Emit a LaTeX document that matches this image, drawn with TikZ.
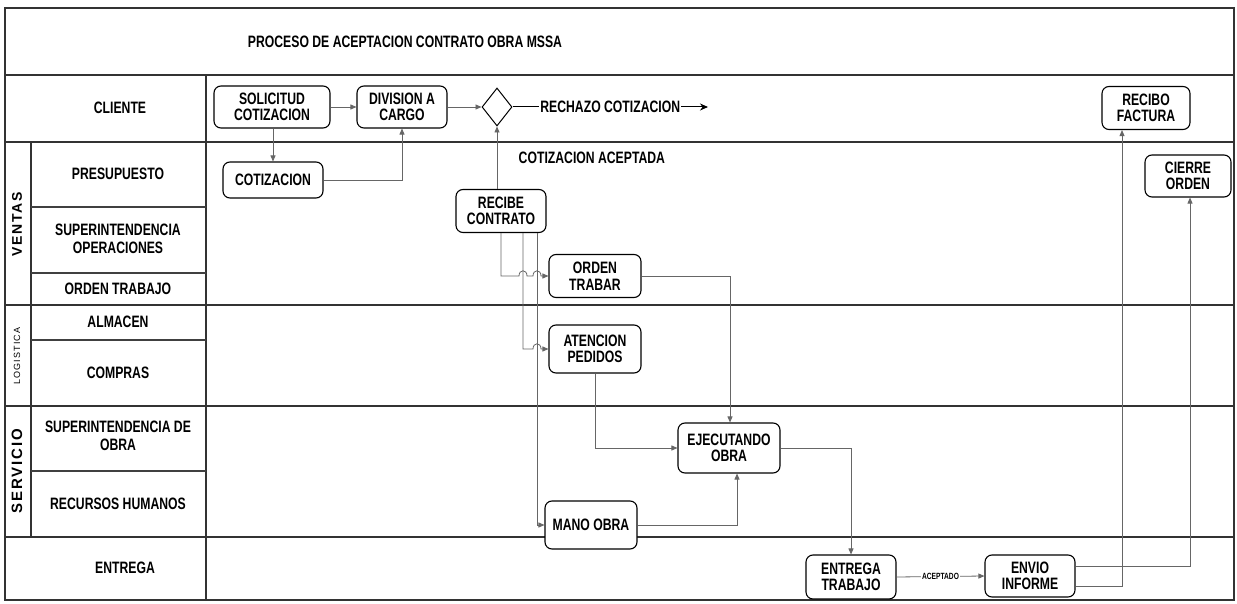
\documentclass[tikz,border=0pt]{standalone}
\usepackage{fontspec}
\setmainfont{Liberation Sans}[FakeStretch=0.74]
\newfontfamily\gfont{Liberation Sans}[LetterSpace=12]
\usetikzlibrary{arrows.meta,shapes.geometric,calc}
\begin{document}
\begin{tikzpicture}[x=1pt,y=-1pt,
  lane/.style={line width=1.4pt, draw=black!80},
  sub/.style={line width=1.1pt, draw=black!75},
  proc/.style={draw=black, line width=1.1pt, rounded corners=7pt, align=center, inner sep=0pt, font=\bfseries\fontsize{16.5}{16.5}\selectfont, fill=white},
  lbl/.style={align=center, font=\bfseries\fontsize{16.5}{18}\selectfont},
  grp/.style={rotate=90, font=\gfont\bfseries\fontsize{14}{15}\selectfont},
  conn/.style={draw=black!60, line width=0.8pt, -{Triangle[length=6pt,width=5pt]}},
]
\useasboundingbox (0,0) rectangle (1237,604);
\fill[white] (0,0) rectangle (1237,604);
% frame and lanes
\draw[lane] (5,8) rectangle (1234,600);
\draw[lane] (5,75) -- (1234,75);
\draw[lane] (5,142) -- (1234,142);
\draw[lane] (5,305) -- (1234,305);
\draw[lane] (5,406) -- (1234,406);
\draw[lane] (5,537) -- (1234,537);
\draw[lane] (206,75) -- (206,600);
\draw[lane] (31,142) -- (31,537);
\draw[sub] (31,207) -- (206,207);
\draw[sub] (31,273) -- (206,273);
\draw[sub] (31,340) -- (206,340);
\draw[sub] (31,471) -- (206,471);
% labels
\node[lbl] (title) at (405,42) {PROCESO DE ACEPTACION CONTRATO OBRA MSSA};
\node[lbl] (lcli) at (120,108) {CLIENTE};
\node[lbl] (lpre) at (118,174) {PRESUPUESTO};
\node[lbl] (lsop) at (118,239) {SUPERINTENDENCIA\\OPERACIONES};
\node[lbl] (lot) at (118,289) {ORDEN TRABAJO};
\node[lbl] (lalm) at (118,322) {ALMACEN};
\node[lbl] (lcom) at (118,373) {COMPRAS};
\node[lbl] (lsob) at (118,436) {SUPERINTENDENCIA DE\\OBRA};
\node[lbl] (lrh) at (118,504) {RECURSOS HUMANOS};
\node[lbl] (lent) at (125,568) {ENTREGA};
\node[grp] (gven) at (17,224) {VENTAS};
\node[grp, font=\gfont\fontsize{9}{10}\selectfont] (glog) at (17,356) {LOGISTICA};
\node[grp, font=\gfont\bfseries\fontsize{15}{16}\selectfont] (gser) at (17,471) {SERVICIO};
% process nodes
\node[proc, minimum width=116pt, minimum height=42pt] (sol) at (272,107) {SOLICITUD\\COTIZACION};
\node[proc, minimum width=90pt, minimum height=42pt] (div) at (402,107) {DIVISION A\\CARGO};
\node[diamond, draw=black, line width=1pt, minimum width=30pt, minimum height=38pt, inner sep=0pt, aspect=0.8] (dia) at (497,107) {};
\coordinate (rech) at (708,107);
\node[proc, minimum width=100pt, minimum height=36pt] (cot) at (273,180) {COTIZACION};
\node[proc, minimum width=90pt, minimum height=43pt] (rc) at (501,211) {RECIBE\\CONTRATO};
\node[proc, minimum width=92pt, minimum height=43pt] (ot) at (595,276) {ORDEN\\TRABAR};
\node[proc, minimum width=92pt, minimum height=48pt] (ap) at (595,349) {ATENCION\\PEDIDOS};
\node[proc, minimum width=102pt, minimum height=50pt] (ej) at (729,448) {EJECUTANDO\\OBRA};
\node[proc, minimum width=92pt, minimum height=48pt] (mo) at (591,525) {MANO OBRA};
\node[proc, minimum width=90pt, minimum height=44pt] (et) at (851,577) {ENTREGA\\TRABAJO};
\node[proc, minimum width=90pt, minimum height=42pt] (ei) at (1030,576) {ENVIO\\INFORME};
\node[proc, minimum width=88pt, minimum height=43pt] (rf) at (1146,108) {RECIBO\\FACTURA};
\node[proc, minimum width=86pt, minimum height=42pt] (co) at (1188,176) {CIERRE\\ORDEN};
% connectors
\draw[conn] (sol) -- (div);
\draw[conn] (div) -- (dia);
\draw[conn] (sol.south -| cot.north) -- (cot.north);
\draw[conn] (cot.east) -| (div.south);
\draw[draw=black, line width=1pt, -{Stealth[length=8pt,width=7pt]}] (dia.east) -- (rech)
  node[midway, fill=white, inner sep=1pt, font=\bfseries\fontsize{16.5}{16.5}\selectfont] (lrech) {RECHAZO COTIZACION};
\draw[conn] (rc.north -| dia.south) -- (dia.south)
  node[pos=0.5, anchor=west, xshift=18pt, font=\bfseries\fontsize{16.5}{16.5}\selectfont] (lacep) {COTIZACION ACEPTADA};
% from RECIBE CONTRATO with line hops
\draw[conn] (rc.south) -- (rc.south |- ot.west) -- ++(18,0)
  .. controls +(0,-7) and +(0,-7) .. ++(8,0) -- ++(6,0)
  .. controls +(0,-7) and +(0,-7) .. ++(8,0) -- (ot.west);
\draw[conn] ([xshift=22pt]rc.south) -- ([xshift=22pt]rc.south |- ap.west) -- ++(10,0)
  .. controls +(0,-7) and +(0,-7) .. ++(8,0) -- (ap.west);
\draw[conn] ([xshift=36pt]rc.south) |- (mo.west);
\draw[conn] (ot.east) -| ([xshift=1pt]ej.north);
\draw[conn] (ap.south) |- (ej.west);
\draw[conn] (mo.east) -| ([xshift=8pt]ej.south);
\draw[conn] (ej.east) -| (et.north);
\draw[conn] (et.east) -- (ei.west)
  node[midway, fill=white, inner sep=1pt, font=\bfseries\fontsize{9}{10}\selectfont] (lacp) {ACEPTADO};
\draw[conn] ([yshift=-10pt]ei.east) -| ([xshift=-24pt]rf.south);
\draw[conn] ([yshift=10pt]ei.east) -| ([xshift=2pt]co.south);
\end{tikzpicture}
\end{document}
